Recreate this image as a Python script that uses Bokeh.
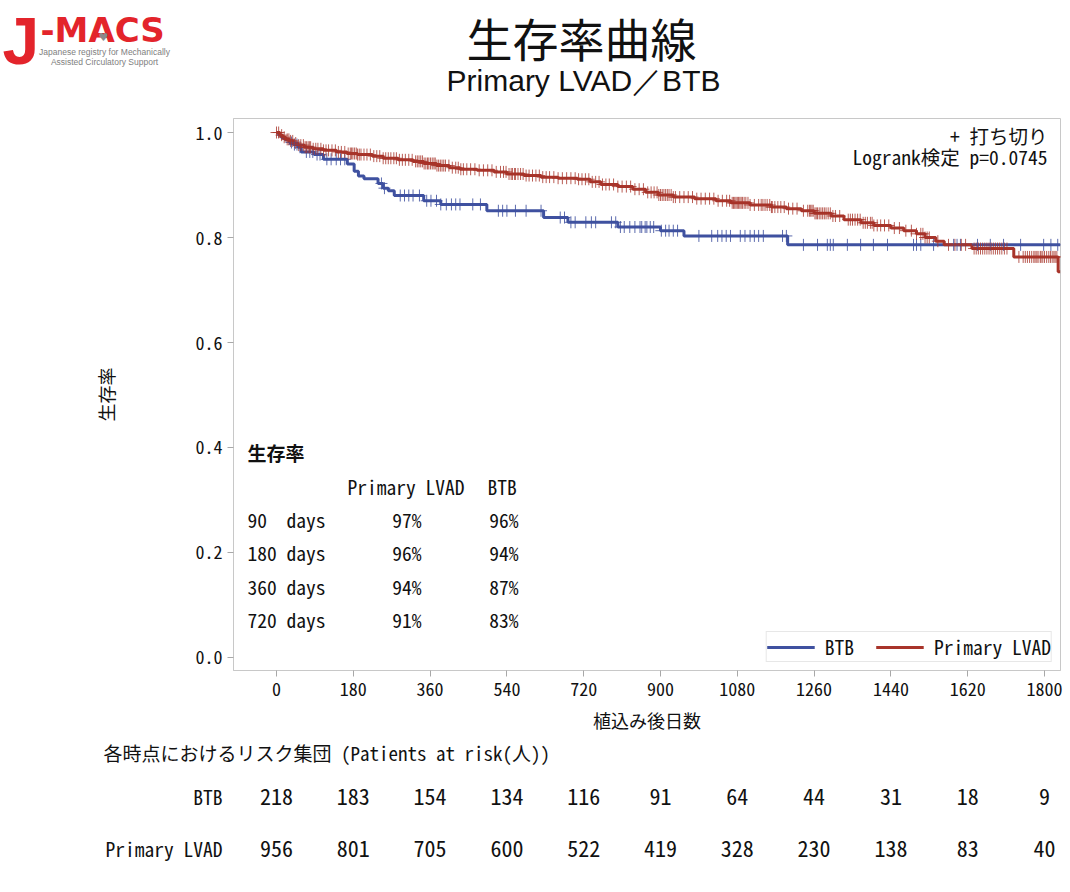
import numpy as np
from bokeh.plotting import figure
from bokeh.layouts import column
from bokeh.models import Label, Range1d, FixedTicker, PrintfTickFormatter, Legend, LegendItem
from bokeh.embed import file_html
from bokeh.resources import INLINE

# ---------------- data ----------------
x_ticks = [0, 180, 360, 540, 720, 900, 1080, 1260, 1440, 1620, 1800]
y_ticks = [0.0, 0.2, 0.4, 0.6, 0.8, 1.0]

# Kaplan-Meier steps (time in days, survival)
lvad_t = [0, 8, 15, 22, 30, 40, 50, 65, 85, 110, 140, 165, 190, 225, 250, 285, 320, 345,
          375, 405, 430, 470, 510, 540, 580, 620, 660, 705, 735, 760, 800, 835, 865, 895,
          930, 980, 1030, 1065, 1110, 1160, 1195, 1230, 1260, 1300, 1330, 1370, 1400, 1440,
          1470, 1500, 1520, 1545, 1565, 1630, 1728, 1832, 1837]
lvad_s = [1.000, 0.995, 0.991, 0.987, 0.984, 0.980, 0.976, 0.972, 0.969, 0.966, 0.963, 0.960,
          0.958, 0.955, 0.951, 0.948, 0.945, 0.941, 0.937, 0.933, 0.930, 0.928, 0.925, 0.921,
          0.918, 0.915, 0.913, 0.911, 0.906, 0.901, 0.897, 0.892, 0.886, 0.881, 0.877, 0.874,
          0.870, 0.866, 0.862, 0.858, 0.855, 0.851, 0.846, 0.841, 0.834, 0.828, 0.823, 0.818,
          0.813, 0.807, 0.800, 0.793, 0.786, 0.779, 0.763, 0.735, 0.735]

btb_t = [0, 5, 12, 20, 30, 40, 50, 58, 88, 110, 166, 182, 192, 205, 238, 250, 262, 276, 345,
         385, 493, 626, 683, 800, 900, 955, 1198, 1837]
btb_s = [1.000, 0.995, 0.990, 0.986, 0.981, 0.977, 0.972, 0.963, 0.958, 0.949, 0.940, 0.926,
         0.917, 0.912, 0.903, 0.894, 0.889, 0.880, 0.870, 0.863, 0.851, 0.838, 0.829, 0.820,
         0.813, 0.803, 0.786, 0.786]

# censored times
lvad_cens = [0, 5, 12, 18, 25, 29, 33, 38, 45, 52, 57, 63, 67, 70, 74, 77, 80, 86, 92, 97, 104,
             110, 116, 122, 130, 138, 145, 152, 160, 168, 173, 176, 179, 183, 187, 190, 194,
             198, 205, 212, 220, 228, 235, 242, 250, 256, 262, 268, 275, 281, 288, 295, 302,
             310, 318, 326, 330, 334, 338, 342, 346, 350, 354, 357, 361, 365, 369, 372, 376,
             380, 384, 388, 392, 396, 404, 412, 420, 426, 432, 438, 446, 455, 465, 475, 485,
             495, 505, 515, 525, 532, 538, 545, 550, 553, 558, 560, 566, 572, 578, 585, 592,
             600, 608, 616, 624, 632, 640, 650, 660, 670, 680, 690, 700, 708, 716, 724, 732,
             740, 748, 756, 764, 772, 780, 790, 800, 810, 820, 830, 840, 850, 860, 870, 878,
             885, 892, 896, 900, 904, 908, 912, 916, 920, 925, 930, 935, 945, 955, 965, 975,
             985, 995, 1005, 1015, 1025, 1035, 1045, 1055, 1062, 1068, 1071, 1074, 1077, 1080,
             1083, 1086, 1089, 1092, 1096, 1100, 1105, 1110, 1120, 1130, 1136, 1140, 1145,
             1150, 1156, 1160, 1162, 1168, 1175, 1182, 1190, 1200, 1210, 1220, 1235, 1245,
             1249, 1252, 1255, 1258, 1262, 1265, 1268, 1272, 1276, 1280, 1284, 1288, 1293,
             1298, 1304, 1310, 1320, 1340, 1345, 1350, 1356, 1362, 1368, 1375, 1380, 1385,
             1392, 1396, 1400, 1408, 1416, 1425, 1435, 1448, 1460, 1475, 1488, 1500, 1510,
             1515, 1520, 1525, 1530, 1550, 1575, 1590, 1605, 1615, 1635, 1640, 1645, 1650,
             1655, 1660, 1665, 1670, 1675, 1680, 1685, 1690, 1695, 1700, 1706, 1712, 1740,
             1750, 1755, 1760, 1765, 1770, 1775, 1778, 1782, 1785, 1790, 1792, 1796, 1800,
             1805, 1810, 1814, 1818, 1822, 1825, 1829]
btb_cens = [35, 42, 48, 55, 70, 78, 85, 95, 102, 118, 128, 140, 150, 160, 246, 253, 290, 300,
            310, 320, 335, 352, 362, 375, 385, 398, 410, 420, 430, 460, 478, 520, 530, 540, 560,
            585, 620, 665, 675, 690, 700, 725, 738, 748, 785, 795, 806, 815, 828, 840, 852, 856,
            864, 868, 876, 884, 902, 912, 920, 930, 940, 990, 1020, 1034, 1044, 1054, 1064, 1087,
            1098, 1110, 1120, 1130, 1141, 1186, 1195, 1235, 1268, 1291, 1298, 1305, 1338, 1369,
            1399, 1432, 1493, 1500, 1510, 1540, 1587, 1595, 1603, 1643, 1673, 1704, 1744, 1798,
            1815, 1831]

# survival table inset
surv_days = ["90\u00a0\u00a0days", "180 days", "360 days", "720 days"]
surv_lvad = ["97%", "96%", "94%", "91%"]
surv_btb = ["96%", "94%", "87%", "83%"]

# patients at risk
risk_btb = [218, 183, 154, 134, 116, 91, 64, 44, 31, 18, 9]
risk_lvad = [956, 801, 705, 600, 522, 419, 328, 230, 138, 83, 40]

# ---------------- style / layout ----------------
BLUE = "#3f51a0"
RED = "#a8342a"
LOGO_RED = "#e3242b"
INK = "#111111"
MONO = "'Noto Sans Mono CJK JP', 'Noto Sans CJK JP', monospace"
GOTH = "'Noto Sans CJK JP', sans-serif"
SANS = "'Liberation Sans', Arial, sans-serif"
DEJA = "'DejaVu Sans', sans-serif"

W = 1070
HEAD_H = 114            # header strip: page rows 0..114
MAIN_H = 626            # main chart: page rows 114..740
RISK_H = 150            # risk table: page rows 740..890
FL, FR, FT, FB = 233, 1060, 118, 670   # plot frame edges in page pixels
XR = (-100.8, 1837.5)   # day range of the plot frame
PXD = (FR - FL) / (XR[1] - XR[0])      # pixels per day


def s_at(ts, ss, t):
    idx = np.searchsorted(np.asarray(ts), np.asarray(t), side="right") - 1
    return np.asarray(ss)[idx]


def bare(fig):
    fig.xgrid.visible = False
    fig.ygrid.visible = False
    fig.outline_line_color = None
    return fig


# ---- header (title + logo) ----
head = bare(figure(width=W, height=HEAD_H, output_backend="svg", toolbar_location=None,
                   x_range=Range1d(0, W), y_range=Range1d(HEAD_H, 0),
                   x_axis_location=None, y_axis_location=None, frame_align=False,
                   min_border=0, min_border_left=0, min_border_right=0,
                   min_border_top=0, min_border_bottom=0))


def hlab(text, x, y, size, font=GOTH, align="left", baseline="middle", color=INK,
         style="normal"):
    head.add_layout(Label(x=x, y=y, text=text, text_font=font, text_font_size=size,
                          text_align=align, text_baseline=baseline, text_color=color,
                          text_font_style=style))


hlab("生存率曲線", 581, 36, "46px", align="center")
hlab("Primary LVAD／BTB", 583, 80, "30px", font=SANS, align="center")
hlab("J", 2, 40, "66px", font=SANS, color=LOGO_RED, style="bold")
hlab("-MACS", 40, 29, "34px", font=DEJA, color=LOGO_RED, style="bold")
hlab("♥", 103, 37, "11px", font=DEJA, align="center", color="#8a8a8a")
hlab("Japanese registry for Mechanically", 104, 51, "8.5px", font=SANS, align="center",
     color="#808080")
hlab("Assisted Circulatory Support", 104, 61, "8.5px", font=SANS, align="center",
     color="#808080")

# ---- main chart ----
p = figure(width=W, height=MAIN_H, output_backend="svg", toolbar_location=None,
           x_range=Range1d(*XR), y_range=Range1d(-0.0248, 1.0267), frame_align=False,
           min_border_left=FL, min_border_right=W - FR, min_border_top=FT - HEAD_H,
           min_border_bottom=HEAD_H + MAIN_H - FB)
p.xgrid.visible = False
p.ygrid.visible = False
p.outline_line_color = "#c8c8c8"

for ax in (p.xaxis, p.yaxis):
    ax.axis_line_color = "#c8c8c8"
    ax.major_tick_line_color = "#a8a8a8"
    ax.major_tick_out = 6
    ax.major_tick_in = 0
    ax.minor_tick_line_color = None
    ax.major_label_text_font = MONO
    ax.major_label_text_font_size = "18px"
    ax.major_label_text_color = INK
    ax.axis_label_text_font = GOTH
    ax.axis_label_text_font_size = "18px"
    ax.axis_label_text_font_style = "normal"
    ax.axis_label_text_color = INK

p.xaxis.ticker = FixedTicker(ticks=x_ticks)
p.yaxis.ticker = FixedTicker(ticks=y_ticks)
p.yaxis.formatter = PrintfTickFormatter(format="%.1f")
p.xaxis.axis_label = "植込み後日数"
p.xaxis.axis_label_standoff = 8
p.yaxis.axis_label = "生存率"
p.yaxis.axis_label_standoff = 74

r_btb = p.step(btb_t, btb_s, mode="after", line_width=3, color=BLUE)
r_lvad = p.step(lvad_t, lvad_s, mode="after", line_width=3, color=RED)
p.scatter(btb_cens, s_at(btb_t, btb_s, btb_cens), marker="cross", size=12,
          line_width=1, color=BLUE, alpha=0.85)
p.scatter(lvad_cens, s_at(lvad_t, lvad_s, lvad_cens), marker="cross", size=12,
          line_width=1, color=RED, alpha=0.8)

legend = Legend(items=[LegendItem(label="BTB", renderers=[r_btb]),
                       LegendItem(label="Primary LVAD", renderers=[r_lvad])],
                location="bottom_right", orientation="horizontal",
                glyph_width=48, glyph_height=14, label_height=14, padding=0,
                spacing=22, label_standoff=10, margin=8,
                label_text_font=MONO, label_text_font_size="19.5px",
                label_text_color=INK,
                border_line_color="#d0d0d0", background_fill_color="white")
p.add_layout(legend, "center")


def lab(text, rx, ry, size="19.5px", font=MONO, align="left", style="normal"):
    p.add_layout(Label(x=rx - FL, y=FB - ry, x_units="screen", y_units="screen",
                       text=text, text_font=font, text_font_size=size, text_align=align,
                       text_baseline="middle", text_color=INK, text_font_style=style))


lab("+ 打ち切り", 1047, 135, align="right")
lab("Logrank検定 p=0.0745", 1047, 156, align="right")

lab("生存率", 247, 452, size="19px", font=GOTH, style="bold")
lab("Primary LVAD", 347, 486)
lab("BTB", 487, 486)
row_y = [519, 552, 586, 619]
for d, a, b, ry in zip(surv_days, surv_lvad, surv_btb, row_y):
    lab(d, 247, ry)
    lab(a, 421, ry, align="right")
    lab(b, 518, ry, align="right")

# ---- risk table ----
top = HEAD_H + MAIN_H
risk = bare(figure(width=W, height=RISK_H, output_backend="svg", toolbar_location=None,
                   x_range=Range1d(XR[0] - FL / PXD, XR[1] + (W - FR) / PXD),
                   y_range=Range1d(top + RISK_H, top), frame_align=False,
                   x_axis_location=None, y_axis_location=None,
                   min_border=0, min_border_left=0, min_border_right=0,
                   min_border_top=0, min_border_bottom=0))


def rlab(text, sx, y, size="19px", align="left"):
    risk.add_layout(Label(x=sx, y=y, x_units="screen", text=text, text_font=MONO,
                          text_font_size=size, text_align=align, text_baseline="middle",
                          text_color=INK))


rlab("各時点におけるリスク集団 (Patients at risk(人))", 103, 752)
rlab("BTB", 222, 796, size="19.5px", align="right")
rlab("Primary LVAD", 222, 848, size="19.5px", align="right")
for d, nb, nl in zip(x_ticks, risk_btb, risk_lvad):
    risk.add_layout(Label(x=d, y=796, text=str(nb), text_font=MONO, text_font_size="22px",
                          text_align="center", text_baseline="middle", text_color=INK))
    risk.add_layout(Label(x=d, y=848, text=str(nl), text_font=MONO, text_font_size="22px",
                          text_align="center", text_baseline="middle", text_color=INK))

layout = column(head, p, risk, spacing=0)
open("out.html", "w").write(file_html(layout, INLINE))
